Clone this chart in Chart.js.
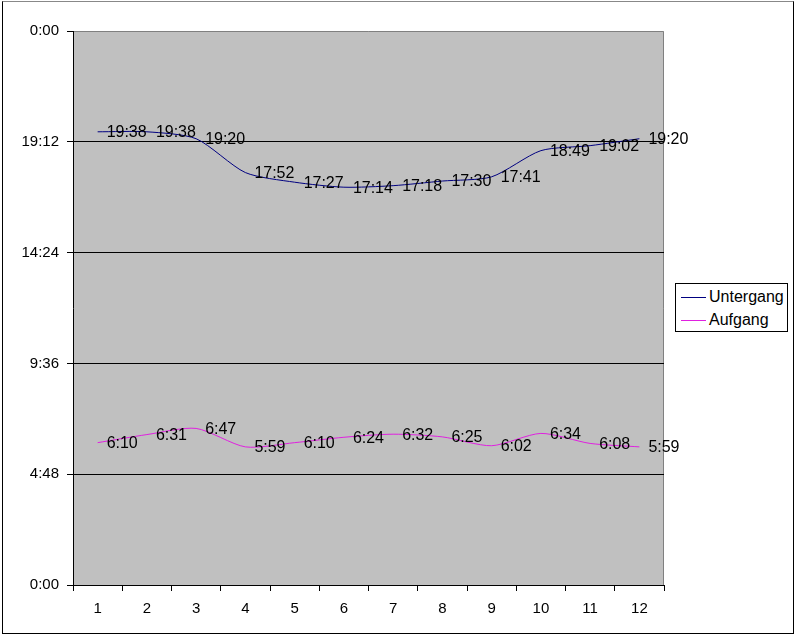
<!DOCTYPE html>
<html>
<head>
<meta charset="utf-8">
<script src="https://cdn.jsdelivr.net/npm/chart.js@4"></script>
<style>
    html, body { margin: 0; padding: 0; background: #fff; }
    #wrap { position: relative; width: 797px; height: 637px; }
    #frame { position: absolute; left: 2px; top: 1px; width: 792px; height: 633px; border: 1px solid #000; border-top-color: #888; box-sizing: border-box; pointer-events: none; }
    #legend { position: absolute; left: 675px; top: 283px; width: 113px; height: 49px; border: 1px solid #000; box-sizing: border-box; background: #fff;
              font: 16px "Liberation Sans", Arial, sans-serif; color: #000; }
    .item { position: absolute; left: 5px; height: 18px; line-height: 18px; white-space: nowrap; }
    .item span.sw { display: inline-block; width: 25px; height: 0; border-top: 1px solid; vertical-align: middle; margin-right: 3px; }
</style>
</head>
<body>
<div id="wrap">
    <canvas id="sunChart" width="797" height="637"></canvas>
    <div id="frame"></div>
    <div id="legend">
        <div class="item" style="top:4px"><span class="sw" style="border-color:#000080"></span>Untergang</div>
        <div class="item" style="top:27px"><span class="sw" style="border-color:#e020e0"></span>Aufgang</div>
    </div>
</div>
<script>
// Chart data
const months = ['1', '2', '3', '4', '5', '6', '7', '8', '9', '10', '11', '12'];
const sunsetTimes = ['19:38', '19:38', '19:20', '17:52', '17:27', '17:14', '17:18', '17:30', '17:41', '18:49', '19:02', '19:20'];
const sunriseTimes = ['6:10', '6:31', '6:47', '5:59', '6:10', '6:24', '6:32', '6:25', '6:02', '6:34', '6:08', '5:59'];
const yTickStep = 288; // 4:48 in minutes
const yMax = 1440;

function toMinutes(t) {
    const parts = t.split(':');
    return parseInt(parts[0], 10) * 60 + parseInt(parts[1], 10);
}

function formatMinutes(v) {
    const m = Math.round(v) % 1440;
    const h = Math.floor(m / 60);
    const mm = m % 60;
    return h + ':' + (mm < 10 ? '0' : '') + mm;
}

const FONT = '"Liberation Sans", Arial, sans-serif';

// Gray plot background and borders
const plotBackground = {
    id: 'plotBackground',
    beforeDraw(chart) {
        const { ctx, chartArea: a } = chart;
        ctx.save();
        ctx.fillStyle = '#c0c0c0';
        ctx.fillRect(a.left, a.top, a.right - a.left, a.bottom - a.top);
        ctx.strokeStyle = '#808080';
        ctx.lineWidth = 1;
        ctx.beginPath();
        ctx.moveTo(a.left, a.top + 0.5);
        ctx.lineTo(a.right - 0.5, a.top + 0.5);
        ctx.lineTo(a.right - 0.5, a.bottom);
        ctx.stroke();
        ctx.restore();
    }
};

// Value labels to the right of each point
const valueLabels = {
    id: 'valueLabels',
    afterDatasetsDraw(chart) {
        const ctx = chart.ctx;
        ctx.save();
        ctx.font = '16px ' + FONT;
        ctx.fillStyle = '#000';
        ctx.textAlign = 'left';
        ctx.textBaseline = 'middle';
        chart.data.datasets.forEach((ds, i) => {
            const meta = chart.getDatasetMeta(i);
            meta.data.forEach((pt, j) => {
                ctx.fillText(ds.labels[j], pt.x + 9, pt.y + 1);
            });
        });
        ctx.restore();
    }
};

const ctx = document.getElementById('sunChart').getContext('2d');
new Chart(ctx, {
    type: 'line',
    data: {
        labels: months,
        datasets: [{
            label: 'Untergang',
            data: sunsetTimes.map(toMinutes),
            labels: sunsetTimes,
            borderColor: '#000080',
            borderWidth: 1,
            pointRadius: 0,
            tension: 0.25,
            fill: false
        }, {
            label: 'Aufgang',
            data: sunriseTimes.map(toMinutes),
            labels: sunriseTimes,
            borderColor: '#e020e0',
            borderWidth: 1,
            pointRadius: 0,
            tension: 0.25,
            fill: false
        }]
    },
    options: {
        responsive: false,
        animation: false,
        layout: { padding: { left: 0, top: 31, right: 133, bottom: 0 } },
        plugins: {
            legend: { display: false },
            tooltip: { enabled: false }
        },
        scales: {
            x: {
                offset: true,
                grid: {
                    offset: true,
                    drawOnChartArea: false,
                    color: '#000',
                    tickLength: 6
                },
                border: { color: '#000', width: 1 },
                ticks: {
                    color: '#000',
                    padding: 9,
                    maxRotation: 0,
                    font: { family: FONT, size: 15 }
                },
                afterFit(scale) { scale.height = 52; }
            },
            y: {
                min: 0,
                max: yMax,
                grid: {
                    color: (c) => (c.tick && c.tick.value === yMax) ? 'rgba(0,0,0,0)' : '#000',
                    tickColor: '#000',
                    tickLength: 6
                },
                border: { color: '#000', width: 1 },
                ticks: {
                    stepSize: yTickStep,
                    color: '#000',
                    padding: 8,
                    font: { family: FONT, size: 15 },
                    callback: (v) => formatMinutes(v)
                },
                afterFit(scale) { scale.width = 73; }
            }
        }
    },
    plugins: [plotBackground, valueLabels]
});
</script>
</body>
</html>
